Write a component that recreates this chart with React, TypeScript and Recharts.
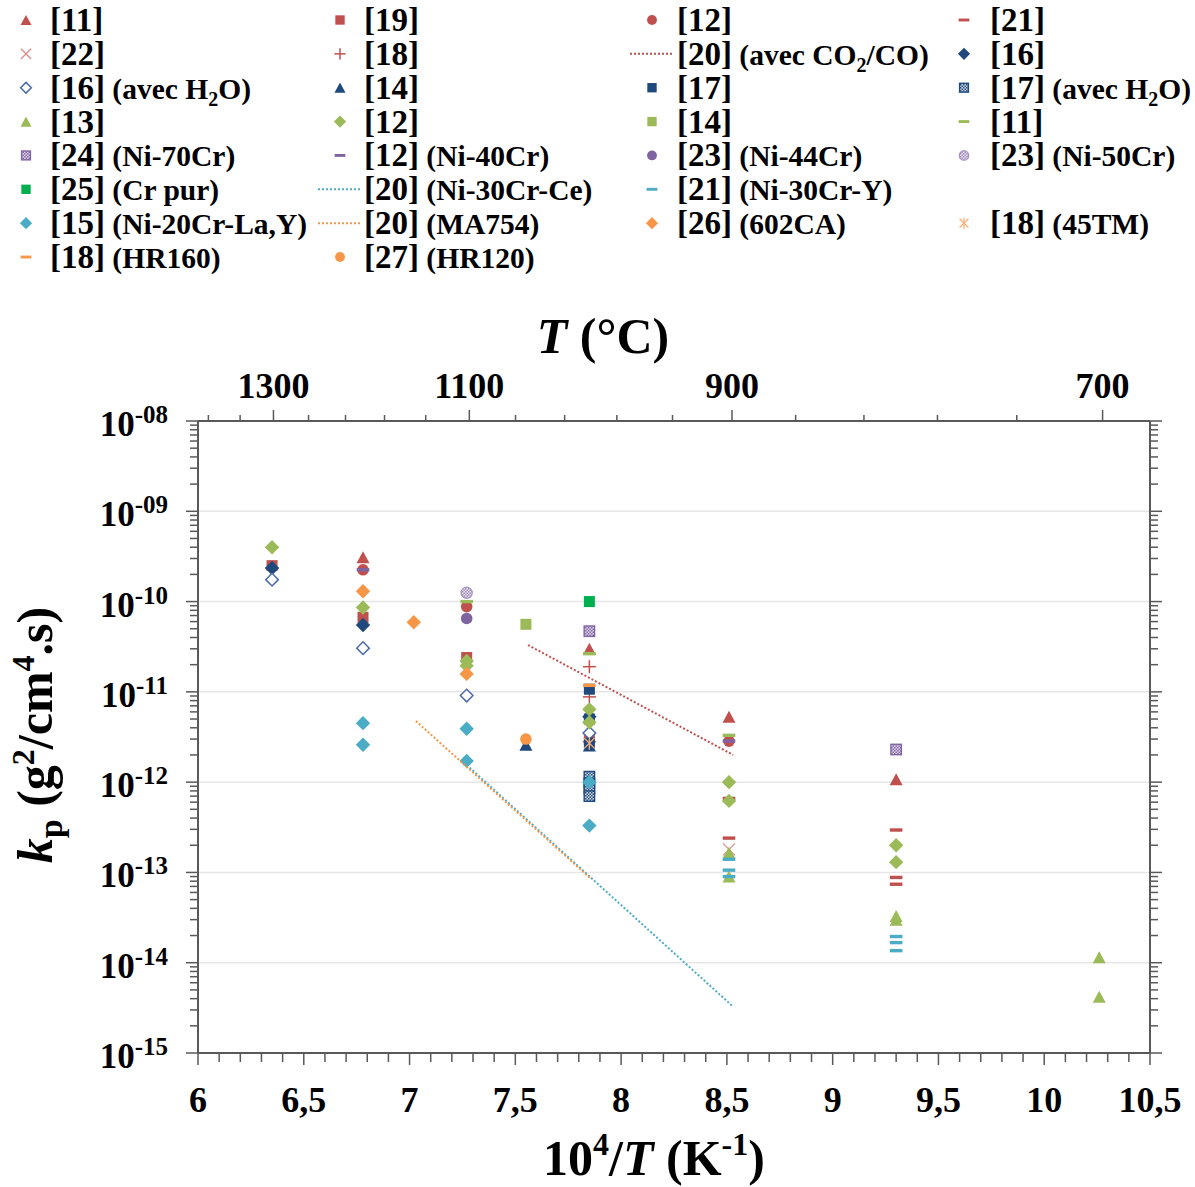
import React from 'react';
import { ScatterChart, Scatter, XAxis, YAxis, ReferenceLine } from 'recharts';

const RED = '#C0504D';
const PINK = '#DA8F8D';
const NAVY = '#1F497D';
const BLUE = '#4A6DA7';
const GREEN = '#9BBB59';
const PURPLE = '#8064A2';
const LIME = '#00B050';
const CYAN = '#4BACC6';
const ORANGE = '#F79646';
const PEACH = '#F9B07A';
const AXIS = '#595959';
const GRID = '#E6E6E6';
const FONT = '"Liberation Serif", "Times New Roman", serif';

// [10^4/T (K^-1), kp (g²/cm⁴.s)]
const ref11Tri = [[6.78, 3.1e-10], [7.85, 3.0e-11], [8.51, 5.3e-12], [9.3, 1.08e-12]];
const ref19Sq = [[6.35, 2.5e-10], [6.78, 6.7e-11], [7.27, 2.4e-11], [7.85, 3.0e-12]];
const ref12Circ = [[6.78, 2.25e-10], [7.27, 8.8e-11], [8.51, 2.85e-12]];
const ref21Dash = [[8.51, 6.6e-13], [8.51, 2.4e-13], [9.3, 2.95e-13], [9.3, 8.8e-14], [9.3, 7.4e-14]];
const ref22X = [[8.51, 1.8e-13]];
const ref18Plus = [[7.85, 1.9e-11], [7.85, 8.8e-12], [7.85, 2.8e-12]];
const ref20Co2 = [[7.56, 3.3e-11], [8.53, 2.0e-12]];
const ref16Dia = [[6.35, 2.35e-10], [6.78, 5.5e-11], [7.85, 5.3e-12]];
const ref16H2o = [[6.35, 1.75e-10], [6.78, 3.05e-11], [7.27, 9.1e-12], [7.85, 3.5e-12]];
const ref14Tri = [[7.55, 2.6e-12], [7.85, 2.55e-12]];
const ref17Sq = [[7.85, 1.07e-11], [7.85, 5.0e-12], [7.85, 2.7e-12]];
const ref17H2o = [[7.85, 1.15e-12], [7.85, 9.7e-13], [7.85, 8.5e-13], [7.85, 7.0e-13]];
const ref13Tri = [[8.51, 1.65e-13], [8.51, 9.0e-14], [9.3, 3.3e-14], [9.3, 3.0e-14], [10.26, 1.15e-14], [10.26, 4.2e-15]];
const ref12Dia = [
  [6.35, 4.0e-10], [6.78, 8.6e-11], [7.27, 2.2e-11], [7.27, 1.95e-11], [7.85, 6.4e-12],
  [7.85, 4.6e-12], [8.51, 1.0e-12], [8.51, 6.2e-13], [9.3, 2.0e-13], [9.3, 1.3e-13],
];
const ref14Sq = [[7.55, 5.6e-11]];
const ref11Dash = [[7.27, 1.0e-10], [7.85, 2.65e-11], [8.51, 3.3e-12]];
const ref24Ni70 = [[7.85, 4.7e-11], [9.3, 2.3e-12]];
const ref12Ni40 = [[6.78, 2.25e-10], [8.51, 2.85e-12]];
const ref23Ni44 = [[7.27, 6.5e-11]];
const ref23Ni50 = [[7.27, 1.25e-10]];
const ref25Cr = [[7.85, 1.0e-10]];
const ref20Ce = [[7.27, 1.55e-12], [8.53, 3.25e-15]];
const ref21Y = [[8.51, 1.4e-13], [8.51, 1.06e-13], [8.51, 9.0e-14], [9.3, 1.95e-14], [9.3, 1.67e-14], [9.3, 1.36e-14]];
const ref15LaY = [[6.78, 4.5e-12], [6.78, 2.6e-12], [7.27, 3.9e-12], [7.27, 1.72e-12], [7.85, 1.0e-12], [7.85, 3.3e-13]];
const ref20Ma754 = [[7.03, 4.75e-12], [7.855, 8.6e-14]];
const ref26Ca = [[6.78, 1.3e-10], [7.02, 5.9e-11], [7.27, 1.58e-11]];
const ref18Tm = [[7.85, 2.7e-12]];
const ref18Hr160 = [[7.85, 1.18e-11]];
const ref27Hr120 = [[7.55, 3.0e-12]];

// axis labels
const celsiusTicks = [1380, 1340, 1300, 1260, 1220, 1180, 1140, 1100, 1060, 1020, 980, 940, 900, 860, 820, 780, 740, 700];
const celsiusLabels = [1300, 1100, 900, 700];

const pts = (rows: number[][]) => rows.map(([x, y]) => ({ x, y }));

// legend is laid out row by row, four per row (null = empty cell)
const series: any[] = [
  { tag: '[11]', note: '', shape: 'tri', color: RED, data: ref11Tri },
  { tag: '[19]', note: '', shape: 'sq', color: RED, data: ref19Sq },
  { tag: '[12]', note: '', shape: 'circ', color: RED, data: ref12Circ },
  { tag: '[21]', note: '', shape: 'dash', color: RED, data: ref21Dash },
  { tag: '[22]', note: '', shape: 'x', color: PINK, data: ref22X },
  { tag: '[18]', note: '', shape: 'plus', color: RED, data: ref18Plus },
  { tag: '[20]', note: '(avec CO_2/CO)', shape: 'line', color: RED, data: ref20Co2 },
  { tag: '[16]', note: '', shape: 'dia', color: NAVY, data: ref16Dia },
  { tag: '[16]', note: '(avec H_2O)', shape: 'hollow', color: BLUE, data: ref16H2o },
  { tag: '[14]', note: '', shape: 'tri', color: NAVY, data: ref14Tri },
  { tag: '[17]', note: '', shape: 'sq', color: NAVY, data: ref17Sq },
  { tag: '[17]', note: '(avec H_2O)', shape: 'patSq', color: NAVY, pat: 'chkNavy', data: ref17H2o },
  { tag: '[13]', note: '', shape: 'tri', color: GREEN, data: ref13Tri },
  { tag: '[12]', note: '', shape: 'dia', color: GREEN, data: ref12Dia },
  { tag: '[14]', note: '', shape: 'sq', color: GREEN, data: ref14Sq },
  { tag: '[11]', note: '', shape: 'dash', color: GREEN, data: ref11Dash },
  { tag: '[24]', note: '(Ni-70Cr)', shape: 'patSq', color: PURPLE, pat: 'chkPurple', data: ref24Ni70 },
  { tag: '[12]', note: '(Ni-40Cr)', shape: 'dash', color: PURPLE, data: ref12Ni40 },
  { tag: '[23]', note: '(Ni-44Cr)', shape: 'circ', color: PURPLE, data: ref23Ni44 },
  { tag: '[23]', note: '(Ni-50Cr)', shape: 'patCirc', color: '#A692C0', pat: 'chkLilac', data: ref23Ni50 },
  { tag: '[25]', note: '(Cr pur)', shape: 'sq', color: LIME, data: ref25Cr },
  { tag: '[20]', note: '(Ni-30Cr-Ce)', shape: 'line', color: CYAN, data: ref20Ce },
  { tag: '[21]', note: '(Ni-30Cr-Y)', shape: 'dash', color: CYAN, data: ref21Y },
  null,
  { tag: '[15]', note: '(Ni-20Cr-La,Y)', shape: 'dia', color: CYAN, data: ref15LaY },
  { tag: '[20]', note: '(MA754)', shape: 'line', color: ORANGE, data: ref20Ma754 },
  { tag: '[26]', note: '(602CA)', shape: 'dia', color: ORANGE, data: ref26Ca },
  { tag: '[18]', note: '(45TM)', shape: 'star', color: PEACH, data: ref18Tm },
  { tag: '[18]', note: '(HR160)', shape: 'dash', color: ORANGE, data: ref18Hr160 },
  { tag: '[27]', note: '(HR120)', shape: 'circ', color: ORANGE, data: ref27Hr120 },
];

const logTicks: number[] = [];
for (let e = -15; e < -8; e++) {
  for (let m = 1; m < 10; m++) logTicks.push(Number((m * Math.pow(10, e)).toPrecision(3)));
}
logTicks.push(1e-8);

const bottomTicks: number[] = [];
for (let i = 60; i <= 105; i++) bottomTicks.push(i / 10);

const topTicks = celsiusTicks.map((c) => 1e4 / (c + 273.15));

function Marker({ shape, color, pat, cx, cy, k = 1 }: any) {
  if (cx == null || cy == null) return null;
  switch (shape) {
    case 'tri':
      return <polygon points={`${cx},${cy - 6 * k} ${cx + 6.5 * k},${cy + 6 * k} ${cx - 6.5 * k},${cy + 6 * k}`} fill={color} />;
    case 'sq':
      return <rect x={cx - 5.5 * k} y={cy - 5.5 * k} width={11 * k} height={11 * k} fill={color} />;
    case 'circ':
      return <circle cx={cx} cy={cy} r={5.8 * k} fill={color} />;
    case 'dia': {
      const d = 7.2 * k;
      return <polygon points={`${cx},${cy - d} ${cx + d},${cy} ${cx},${cy + d} ${cx - d},${cy}`} fill={color} />;
    }
    case 'hollow': {
      const d = 6.3 * k;
      return <polygon points={`${cx},${cy - d} ${cx + d},${cy} ${cx},${cy + d} ${cx - d},${cy}`} fill="#fff" stroke={color} strokeWidth={1.5} />;
    }
    case 'x': {
      const d = 6 * k;
      return (
        <g stroke={color} strokeWidth={1.3}>
          <line x1={cx - d} y1={cy - d} x2={cx + d} y2={cy + d} />
          <line x1={cx - d} y1={cy + d} x2={cx + d} y2={cy - d} />
        </g>
      );
    }
    case 'plus': {
      const d = 6.5 * k;
      return (
        <g stroke={color} strokeWidth={1.5}>
          <line x1={cx - d} y1={cy} x2={cx + d} y2={cy} />
          <line x1={cx} y1={cy - d} x2={cx} y2={cy + d} />
        </g>
      );
    }
    case 'dash':
      return <rect x={cx - 6.3 * k} y={cy - 1.7 * k} width={12.6 * k} height={3.4 * k} fill={color} />;
    case 'patSq':
      return <rect x={cx - 5.2 * k} y={cy - 5.2 * k} width={10.4 * k} height={10.4 * k} fill={`url(#${pat})`} stroke={color} strokeWidth={1.4} />;
    case 'patCirc':
      return <circle cx={cx} cy={cy} r={5.6 * k} fill={`url(#${pat})`} stroke={color} strokeWidth={1.2} />;
    case 'star': {
      const d = 6.5 * k;
      return (
        <g stroke={color} strokeWidth={1.3}>
          <line x1={cx} y1={cy - d} x2={cx} y2={cy + d} />
          <line x1={cx - d * 0.8} y1={cy - d * 0.8} x2={cx + d * 0.8} y2={cy + d * 0.8} />
          <line x1={cx - d * 0.8} y1={cy + d * 0.8} x2={cx + d * 0.8} y2={cy - d * 0.8} />
        </g>
      );
    }
    default:
      return <g />;
  }
}

function LeftTick({ x, y, payload }: any) {
  const v = payload.value;
  const e = Math.round(Math.log10(v));
  const major = Math.abs(v - Math.pow(10, e)) < 1e-3 * v;
  const exp = '-' + String(-e).padStart(2, '0');
  return (
    <g>
      <line x1={x - (major ? 12 : 8)} x2={x} y1={y} y2={y} stroke={AXIS} strokeWidth={1.5} />
      {major && (
        <text x={x - 30} y={y + 15} textAnchor="end" fontFamily={FONT} fontWeight="bold" fontSize={35} fill="#000">
          10<tspan fontSize={25} dy={-13}>{exp}</tspan>
        </text>
      )}
    </g>
  );
}

function RightTick({ x, y, payload }: any) {
  const v = payload.value;
  const e = Math.round(Math.log10(v));
  const major = Math.abs(v - Math.pow(10, e)) < 1e-3 * v;
  return <line x1={x} x2={x + (major ? 12 : 8)} y1={y} y2={y} stroke={AXIS} strokeWidth={1.5} />;
}

function BottomTick({ x, y, payload }: any) {
  const v = payload.value;
  const major = Math.abs(v * 2 - Math.round(v * 2)) < 1e-6;
  return (
    <g>
      <line x1={x} x2={x} y1={y} y2={y + (major ? 12 : 9)} stroke={AXIS} strokeWidth={1.5} />
      {major && (
        <text x={x} y={y + 59} textAnchor="middle" fontFamily={FONT} fontWeight="bold" fontSize={36} fill="#000">
          {String(v).replace('.', ',')}
        </text>
      )}
    </g>
  );
}

function TopTick({ x, y, payload }: any) {
  const c = Math.round(1e4 / payload.value - 273.15);
  const major = celsiusLabels.includes(c);
  return (
    <g>
      <line x1={x} x2={x} y1={y - (major ? 11 : 6)} y2={y} stroke={AXIS} strokeWidth={1.5} />
      {major && (
        <text x={x} y={y - 23} textAnchor="middle" fontFamily={FONT} fontWeight="bold" fontSize={36} fill="#000">
          {c}
        </text>
      )}
    </g>
  );
}

const TopTitle = () => (
  <text x={603} y={353} textAnchor="middle" fontFamily={FONT} fontWeight="bold" fontSize={50} fill="#000">
    <tspan fontStyle="italic">T</tspan> (°C)
  </text>
);

const BottomTitle = () => (
  <text x={654} y={1175} textAnchor="middle" fontFamily={FONT} fontWeight="bold" fontSize={50} fill="#000">
    10<tspan fontSize={32} dy={-20}>4</tspan>
    <tspan dy={20}>/</tspan>
    <tspan fontStyle="italic">T</tspan>
    <tspan> (K</tspan>
    <tspan fontSize={32} dy={-20}>-1</tspan>
    <tspan dy={20}>)</tspan>
  </text>
);

const LeftTitle = () => (
  <text transform="rotate(-90)" x={-735} y={52} textAnchor="middle" fontFamily={FONT} fontWeight="bold" fontSize={50} fill="#000">
    <tspan fontStyle="italic">k</tspan>
    <tspan fontSize={34} dy={10}>p</tspan>
    <tspan dy={-10}> (g</tspan>
    <tspan fontSize={32} dy={-18}>2</tspan>
    <tspan dy={18}>/cm</tspan>
    <tspan fontSize={32} dy={-18}>4</tspan>
    <tspan dy={18}>.s)</tspan>
  </text>
);

function LegendLabel({ x, y, tag, note }: any) {
  const parts: string[] = note ? note.split(/_(\d)/) : [];
  return (
    <text x={x} y={y} fontFamily={FONT} fontWeight="bold" fontSize={33} fill="#000">
      {tag}
      {parts.map((p, i) =>
        i % 2 === 1 ? (
          <tspan key={i} fontSize={20} dy={7}>{p}</tspan>
        ) : (
          <tspan key={i} fontSize={29.5} dy={i > 0 ? -7 : 0}>{i === 0 ? ' ' + p : p}</tspan>
        )
      )}
    </text>
  );
}

function ChartLegend() {
  const symX = [26, 340, 652, 964];
  const textX = [50, 364, 677, 990];
  return (
    <svg width={1195} height={290} style={{ position: 'absolute', left: 0, top: 0 }}>
      {series.map((s, i) => {
        if (!s) return null;
        const col = i % 4;
        const cy = 20 + Math.floor(i / 4) * 33.86;
        const sx = symX[col];
        return (
          <g key={i}>
            {s.shape === 'line' ? (
              <line x1={sx - 22} x2={sx + 20} y1={cy} y2={cy} stroke={s.color} strokeWidth={2} strokeDasharray="2 2" />
            ) : (
              <Marker shape={s.shape} color={s.color} pat={s.pat} cx={sx} cy={cy} k={0.85} />
            )}
            <LegendLabel x={textX[col]} y={cy + 11} tag={s.tag} note={s.note} />
          </g>
        );
      })}
    </svg>
  );
}

export default function App() {
  return (
    <div style={{ position: 'absolute', left: 0, top: 0, width: 1195, height: 1187, background: '#fff' }}>
      <svg width={0} height={0} style={{ position: 'absolute' }}>
        <defs>
          <pattern id="chkNavy" width={3} height={3} patternUnits="userSpaceOnUse">
            <rect width={3} height={3} fill="#D6DEEA" />
            <rect width={1.5} height={1.5} fill={NAVY} />
            <rect x={1.5} y={1.5} width={1.5} height={1.5} fill={NAVY} />
          </pattern>
          <pattern id="chkPurple" width={3} height={3} patternUnits="userSpaceOnUse">
            <rect width={3} height={3} fill="#E4DCEE" />
            <rect width={1.5} height={1.5} fill={PURPLE} />
            <rect x={1.5} y={1.5} width={1.5} height={1.5} fill={PURPLE} />
          </pattern>
          <pattern id="chkLilac" width={3} height={3} patternUnits="userSpaceOnUse">
            <rect width={3} height={3} fill="#EEE9F4" />
            <rect width={1.5} height={1.5} fill="#9C86BA" />
            <rect x={1.5} y={1.5} width={1.5} height={1.5} fill="#9C86BA" />
          </pattern>
        </defs>
      </svg>
      <ScatterChart width={1195} height={1187} margin={{ top: 381, right: 25, bottom: 94, left: 98 }}>
        <XAxis
          xAxisId="b"
          type="number"
          dataKey="x"
          domain={[6, 10.5]}
          ticks={bottomTicks}
          interval={0}
          tickSize={0}
          tickMargin={0}
          tick={(p: any) => <BottomTick {...p} />}
          axisLine={{ stroke: AXIS, strokeWidth: 2 }}
          height={40}
          allowDataOverflow
          label={<BottomTitle />}
        />
        <XAxis
          xAxisId="t"
          orientation="top"
          type="number"
          dataKey="x"
          domain={[6, 10.5]}
          ticks={topTicks}
          interval={0}
          tickSize={0}
          tickMargin={0}
          tick={(p: any) => <TopTick {...p} />}
          axisLine={{ stroke: AXIS, strokeWidth: 2 }}
          height={40}
          allowDataOverflow
          label={<TopTitle />}
        />
        <YAxis
          yAxisId="l"
          type="number"
          dataKey="y"
          scale="log"
          domain={[1e-15, 1e-8]}
          ticks={logTicks}
          interval={0}
          tickSize={0}
          tickMargin={0}
          tick={(p: any) => <LeftTick {...p} />}
          axisLine={{ stroke: AXIS, strokeWidth: 2 }}
          width={100}
          allowDataOverflow
          label={<LeftTitle />}
        />
        <YAxis
          yAxisId="r"
          orientation="right"
          type="number"
          dataKey="y"
          scale="log"
          domain={[1e-15, 1e-8]}
          ticks={logTicks}
          interval={0}
          tickSize={0}
          tickMargin={0}
          tick={(p: any) => <RightTick {...p} />}
          axisLine={{ stroke: AXIS, strokeWidth: 2 }}
          width={20}
          allowDataOverflow
        />
        {[1e-9, 1e-10, 1e-11, 1e-12, 1e-13, 1e-14].map((v) => (
          <ReferenceLine key={v} xAxisId="b" yAxisId="l" y={v} stroke={GRID} strokeWidth={1.5} />
        ))}
        {/* invisible series so the secondary (°C / right) axes get a domain */}
        <Scatter xAxisId="t" yAxisId="r" data={pts(ref25Cr)} shape={() => <g />} isAnimationActive={false} />
        {series.map((s, i) =>
          !s ? null : s.shape === 'line' ? (
            <Scatter
              key={i}
              xAxisId="b"
              yAxisId="l"
              data={pts(s.data)}
              fill={s.color}
              line={{ stroke: s.color, strokeWidth: 2, strokeDasharray: '2 2' }}
              shape={() => <g />}
              isAnimationActive={false}
            />
          ) : (
            <Scatter
              key={i}
              xAxisId="b"
              yAxisId="l"
              data={pts(s.data)}
              fill={s.color}
              shape={(p: any) => <Marker shape={s.shape} color={s.color} pat={s.pat} cx={p.cx} cy={p.cy} />}
              isAnimationActive={false}
            />
          )
        )}
      </ScatterChart>
      <ChartLegend />
    </div>
  );
}
